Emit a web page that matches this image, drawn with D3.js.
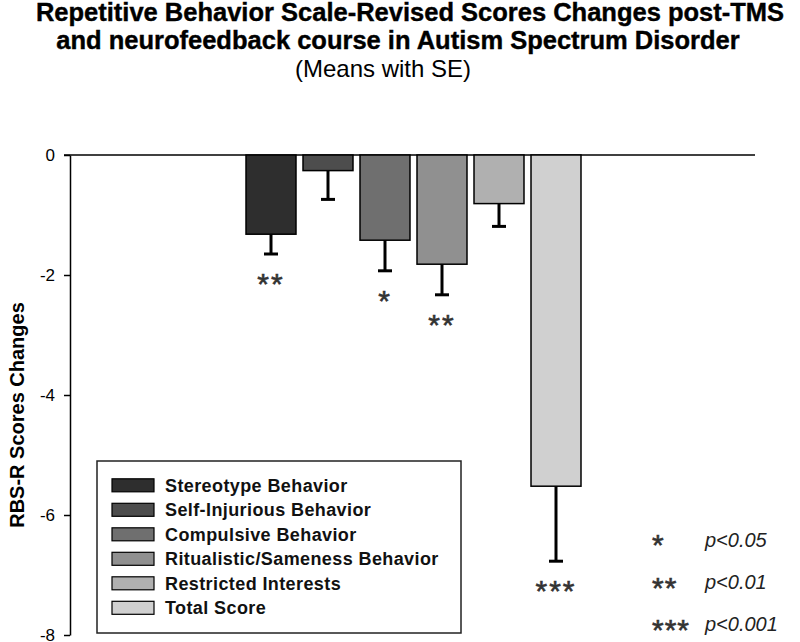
<!DOCTYPE html>
<html>
<head>
<meta charset="utf-8">
<script src="https://cdn.jsdelivr.net/npm/d3@7"></script>
<style>
  body { margin: 0; background: #fff; }
  svg { display: block; font-family: "Liberation Sans", Arial, sans-serif; }
</style>
</head>
<body>
<svg id="chart" width="800" height="642"></svg>
<script>
const categories = [
  "Stereotype Behavior",
  "Self-Injurious Behavior",
  "Compulsive Behavior",
  "Ritualistic/Sameness Behavior",
  "Restricted Interests",
  "Total Score"
];
const means = [-1.32, -0.26, -1.42, -1.82, -0.81, -5.52];
const errors = [0.33, 0.48, 0.51, 0.51, 0.38, 1.25];
const stars = ["**", "", "*", "**", "", "***"];
const yTicks = [0, -2, -4, -6, -8];
const sigMarks = ["*", "**", "***"];
const sigLabels = ["p<0.05", "p<0.01", "p<0.001"];

const fills = ["#2e2e2e", "#4d4d4d", "#6f6f6f", "#909090", "#b0b0b0", "#d0d0d0"];

const svg = d3.select("#chart");

const y = d3.scaleLinear().domain([-8, 0]).range([635, 155]);
const x = d3.scaleBand()
  .domain(categories)
  .range([242.5, 584.5])
  .paddingInner(0.123)
  .paddingOuter(0.0615);
const color = d3.scaleOrdinal().domain(categories).range(fills);

const rows = categories.map((c, i) => ({ cat: c, mean: means[i], se: errors[i], star: stars[i] }));

// title
const title = svg.append("g").attr("text-anchor", "middle").attr("fill", "#000");
title.append("text").attr("x", 410).attr("y", 21)
  .attr("font-size", 25.5).attr("font-weight", "bold")
  .attr("stroke", "#000").attr("stroke-width", 0.4)
  .text("Repetitive Behavior Scale-Revised Scores Changes post-TMS");
title.append("text").attr("x", 398).attr("y", 49)
  .attr("font-size", 25.5).attr("font-weight", "bold")
  .attr("stroke", "#000").attr("stroke-width", 0.4)
  .text("and neurofeedback course in Autism Spectrum Disorder");
title.append("text").attr("x", 383).attr("y", 77)
  .attr("font-size", 24)
  .text("(Means with SE)");

// y axis
const axis = svg.append("g")
  .attr("transform", "translate(70,0)")
  .call(d3.axisLeft(y).tickValues(yTicks).tickSize(6).tickSizeOuter(0).tickPadding(9).tickFormat(d3.format("d")));
axis.select(".domain").attr("stroke", "#000").attr("stroke-width", 1.5);
axis.selectAll(".tick line").attr("stroke", "#000").attr("stroke-width", 1.5);
axis.selectAll(".tick text")
  .attr("font-size", 17).attr("fill", "#000")
  .attr("font-family", "Liberation Sans, Arial, sans-serif")
  .text(d => d === 0 ? "0" : "-" + Math.abs(d));

svg.append("text")
  .attr("transform", "translate(24,415) rotate(-90)")
  .attr("text-anchor", "middle")
  .attr("font-size", 20).attr("font-weight", "bold")
  .text("RBS-R Scores Changes");

// zero line
svg.append("line")
  .attr("x1", 64).attr("x2", 755)
  .attr("y1", y(0)).attr("y2", y(0))
  .attr("stroke", "#000").attr("stroke-width", 1.5);

// bars
svg.append("g").selectAll("rect").data(rows).join("rect")
  .attr("x", d => x(d.cat))
  .attr("y", y(0))
  .attr("width", x.bandwidth())
  .attr("height", d => y(d.mean) - y(0))
  .attr("fill", d => color(d.cat))
  .attr("stroke", "#000").attr("stroke-width", 1.5);

// error bars
const eb = svg.append("g").attr("stroke", "#000").attr("stroke-width", 3);
eb.selectAll("line.v").data(rows).join("line").attr("class", "v")
  .attr("x1", d => x(d.cat) + x.bandwidth() / 2)
  .attr("x2", d => x(d.cat) + x.bandwidth() / 2)
  .attr("y1", d => y(d.mean))
  .attr("y2", d => y(d.mean - d.se));
eb.selectAll("line.cap").data(rows).join("line").attr("class", "cap")
  .attr("x1", d => x(d.cat) + x.bandwidth() / 2 - 7)
  .attr("x2", d => x(d.cat) + x.bandwidth() / 2 + 7)
  .attr("y1", d => y(d.mean - d.se))
  .attr("y2", d => y(d.mean - d.se));

// significance stars
svg.append("g").selectAll("text").data(rows).join("text")
  .attr("x", d => x(d.cat) + x.bandwidth() / 2)
  .attr("y", d => y(d.mean - d.se) + 40)
  .attr("text-anchor", "middle")
  .attr("font-size", 30).attr("letter-spacing", 2).attr("fill", "#333")
  .attr("stroke", "#333").attr("stroke-width", 0.6)
  .text(d => d.star);

// legend
const leg = svg.append("g");
leg.append("rect")
  .attr("x", 97).attr("y", 461).attr("width", 364).attr("height", 172)
  .attr("fill", "#fff").attr("stroke", "#222").attr("stroke-width", 1.5);
const legStep = 24.5;
const item = leg.selectAll("g.item").data(categories).join("g").attr("class", "item")
  .attr("transform", (d, i) => `translate(0,${485.3 + i * legStep})`);
item.append("rect")
  .attr("x", 112).attr("y", -6.5).attr("width", 42).attr("height", 13)
  .attr("fill", d => color(d)).attr("stroke", "#000").attr("stroke-width", 1.2);
item.append("text")
  .attr("x", 165).attr("y", 6.5)
  .attr("font-size", 18).attr("font-weight", "bold").attr("letter-spacing", 0.4).attr("fill", "#111")
  .text(d => d);

// p-value key
const key = svg.append("g");
key.selectAll("text.m").data(sigMarks).join("text").attr("class", "m")
  .attr("x", 652).attr("y", (d, i) => 555 + i * 42.5)
  .attr("font-size", 30).attr("letter-spacing", 1).attr("fill", "#333")
  .attr("stroke", "#333").attr("stroke-width", 0.6)
  .text(d => d);
key.selectAll("text.p").data(sigLabels).join("text").attr("class", "p")
  .attr("x", 705).attr("y", (d, i) => 547 + i * 42)
  .attr("font-size", 20).attr("font-style", "italic").attr("fill", "#222")
  .text(d => d);
</script>
</body>
</html>
